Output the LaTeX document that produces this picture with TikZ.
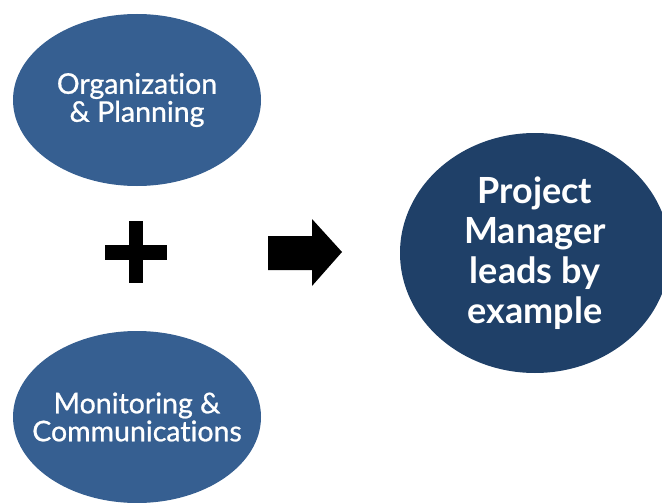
\documentclass[tikz,border=0pt]{standalone}
\usepackage{fontspec}
\setmainfont{Lato}[Ligatures=NoCommon]
\newfontfamily\medfont{Lato}[FakeBold=0.8,Ligatures=NoCommon]
\usetikzlibrary{shapes.geometric}
\definecolor{lightblue}{RGB}{54,95,145}
\definecolor{darkblue}{RGB}{31,64,104}
\tikzset{
  smallell/.style={ellipse, fill=lightblue, text=white, minimum width=248pt, minimum height=172pt, inner xsep=-30pt, inner ysep=0pt, align=center, font=\medfont\fontsize{28.5}{28}\selectfont},
  bigell/.style={ellipse, fill=darkblue, text=white, minimum width=270pt, minimum height=240pt, inner sep=0pt, align=center, font=\bfseries\fontsize{36}{40}\selectfont},
  symb/.style={fill=black, draw=none}
}
\begin{document}
\begin{tikzpicture}[x=1pt,y=-1pt]
\useasboundingbox (0,0) rectangle (662,503);
\clip (0,0) rectangle (662,503);
\node[smallell] (org) at (137,100) {Organization\\\& Planning};
\node[smallell] (mon) at (137,417) {Monitoring \&\\Communications};
\node[bigell] (pm) at (535,253) {Project\\Manager\\leads by\\example};
\coordinate (plus) at (136,252);
\fill[symb] ([shift={(-31,-7.5)}]plus) rectangle ([shift={(31,7.5)}]plus);
\fill[symb] ([shift={(-7,-31)}]plus) rectangle ([shift={(7,31)}]plus);
\coordinate (tip) at (342,252);
\fill[symb] (268,236) -- (312,236) -- (312,219) -- (tip) -- (312,286) -- (312,270) -- (268,270) -- cycle;
\end{tikzpicture}
\end{document}
